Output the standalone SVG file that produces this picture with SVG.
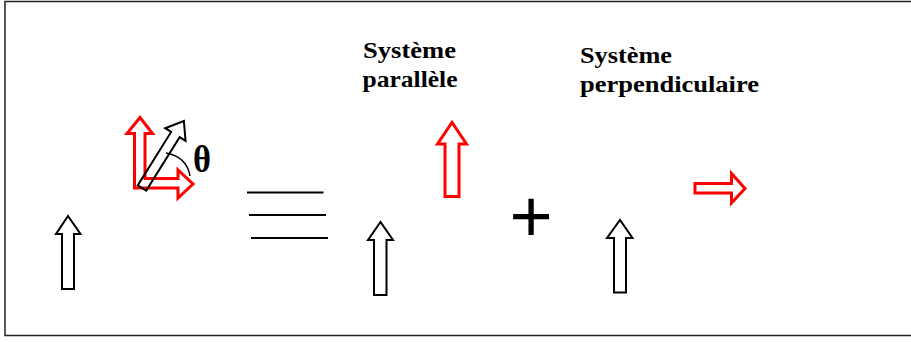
<svg xmlns="http://www.w3.org/2000/svg" width="911" height="342" viewBox="0 0 911 342">
<style>
.blk{fill:#fff;stroke:#000;stroke-width:2;stroke-linejoin:miter}
.red{fill:#fff;stroke:#f00;stroke-width:3;stroke-linejoin:miter}
.lbl{font-family:"Liberation Serif","Times New Roman",serif;font-weight:bold;font-size:23.5px;fill:#000}
.eq{stroke:#000;stroke-width:2}
</style>
<rect x="5" y="1.5" width="920" height="334" fill="#fff" stroke="#222" stroke-width="1.5"/>
<g id="cluster">
<polygon class="red" points="134.5,188 134.5,133.5 127,133.5 140,117.5 152.5,133.5 145,133.5 145,178.5 178,178.5 178,170 193,184 178,198 178,188"/>
<g transform="translate(142,188) rotate(32)"><polygon fill="none" stroke="#000" stroke-width="2" points="-5,0 -5,-63 -12,-63 0,-79 12,-63 5,-63 5,0"/></g>
<path d="M166,153 Q187,157 190,176" fill="none" stroke="#000" stroke-width="1.5"/>
<text x="193" y="171.5" font-family="Liberation Serif,Times New Roman,serif" font-weight="bold" font-size="37" textLength="18" lengthAdjust="spacingAndGlyphs">θ</text>
</g>
<g id="arrowA"><polygon class="blk" points="62,289 62,234 56,234 68,216 80.5,234 74,234 74,289"/></g>
<g id="equals">
<line class="eq" x1="247" y1="192.5" x2="323.5" y2="192.5"/>
<line class="eq" x1="249" y1="215" x2="326" y2="215"/>
<line class="eq" x1="251" y1="238" x2="328" y2="238"/>
</g>
<g id="parallel">
<text class="lbl" x="363" y="57.5" textLength="93" lengthAdjust="spacingAndGlyphs">Système</text>
<text class="lbl" x="362.5" y="86.5" textLength="95" lengthAdjust="spacingAndGlyphs">parallèle</text>
<polygon class="red" points="445,196.5 445,144 437.5,144 452,122.5 466.5,144 459,144 459,196.5"/>
<polygon class="blk" points="374,295 374,240 368,240 380.5,222 393,240 386.5,240 386.5,295"/>
</g>
<g id="plus"><text x="531" y="242" text-anchor="middle" font-family="Liberation Sans,Arial,sans-serif" font-size="74">+</text></g>
<g id="perpendicular">
<text class="lbl" x="580" y="63.3" textLength="92" lengthAdjust="spacingAndGlyphs">Système</text>
<text class="lbl" x="580" y="91.7" textLength="179" lengthAdjust="spacingAndGlyphs">perpendiculaire</text>
<polygon class="blk" points="614,292.5 614,238 607,238 620,220 632.5,238 626,238 626,292.5"/>
<polygon class="red" points="695,183.5 731.5,183.5 731.5,173.5 745,188.5 731.5,203 731.5,193 695,193"/>
</g>
</svg>
